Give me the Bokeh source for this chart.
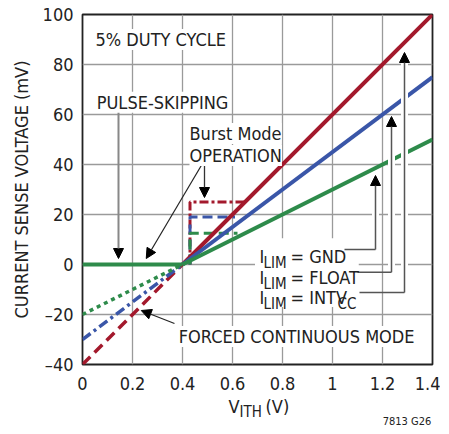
from bokeh.plotting import figure
from bokeh.layouts import column, row
from bokeh.models import (Range1d, FixedTicker, CustomJSTickFormatter, Label,
                          Arrow, NormalHead, Spacer)
from bokeh.core.properties import value
from bokeh.embed import file_html
from bokeh.resources import INLINE

# ---------------- data ----------------
vith_fc = [0.0, 0.4]          # forced continuous mode (extrapolated below 0.4 V)
fc_gnd = [-20, 0]
fc_float = [-30, 0]
fc_intv = [-40, 0]

vith_run = [0.4, 1.4]
run_gnd = [0, 50]
run_float = [0, 75]
run_intv = [0, 100]

vith_skip = [0.0, 0.4]        # pulse-skipping
skip_v = [0, 0]

burst_x_intv = [0.43, 0.43, 0.65]
burst_y_intv = [0, 25, 25]
burst_x_float = [0.43, 0.43, 0.61]
burst_y_float = [0, 19, 19]
burst_x_gnd = [0.43, 0.43, 0.62]
burst_y_gnd = [0, 12.5, 12.5]

x_ticks = [0, 0.2, 0.4, 0.6, 0.8, 1.0, 1.2, 1.4]
y_ticks = [-40, -20, 0, 20, 40, 60, 80, 100]

RED = "#A3192C"
BLUE = "#3A56A8"
GREEN = "#2E8B4B"
FONT = "Liberation Sans Narrow, DejaVu Sans Condensed, Roboto"
TXT = "#222222"

xr = Range1d(0, 1.4)
p = figure(frame_width=350, frame_height=350, output_backend="svg",
           toolbar_location=None, x_range=xr, y_range=Range1d(-40, 100),
           min_border_left=68, min_border_right=8, min_border_top=14, min_border_bottom=30)
p.background_fill_color = "white"
p.border_fill_color = "white"
p.outline_line_color = "#222222"
p.outline_line_width = 1.8

for ax in (p.xaxis[0], p.yaxis[0]):
    ax.axis_line_color = None
    ax.major_tick_in = 0
    ax.major_tick_out = 0
    ax.minor_tick_line_color = None
    ax.major_label_text_font = FONT
    ax.major_label_text_font_size = "18px"
    ax.major_label_text_color = TXT

p.xaxis.ticker = FixedTicker(ticks=x_ticks)
p.yaxis.ticker = FixedTicker(ticks=y_ticks)
p.xaxis.formatter = CustomJSTickFormatter(code="return (Math.round(tick*10)/10).toString();")
p.yaxis.formatter = CustomJSTickFormatter(code="return tick < 0 ? '\u2013' + Math.abs(tick) : '' + tick;")
p.xaxis.major_label_standoff = 12
p.yaxis.major_label_standoff = 9

p.yaxis.axis_label = "CURRENT SENSE VOLTAGE (mV)"
p.yaxis.axis_label_text_font = FONT
p.yaxis.axis_label_text_font_size = "18px"
p.yaxis.axis_label_text_font_style = "normal"
p.yaxis.axis_label_text_color = TXT
p.yaxis.axis_label_standoff = 8

p.grid.grid_line_color = "#9a9a9a"
p.grid.grid_line_width = 1.3
p.xgrid.ticker = FixedTicker(ticks=x_ticks)
p.ygrid.ticker = FixedTicker(ticks=y_ticks)

# white box behind I_LIM labels
p.quad(left=[0.69], right=[1.105], bottom=[-17], top=[10.5], fill_color="white", line_color=None)

# forced continuous extrapolations
p.line(vith_fc, fc_intv, line_color=RED, line_width=3.5, line_dash="11 6")
p.line(vith_fc, fc_float, line_color=BLUE, line_width=3.5, line_dash="10 4 3 4")
p.line(vith_fc, fc_gnd, line_color=GREEN, line_width=3.5, line_dash="4 4")

# burst mode levels
p.line(burst_x_intv, burst_y_intv, line_color=RED, line_width=3, line_dash="9 3 3 3")
p.line(burst_x_float, burst_y_float, line_color=BLUE, line_width=3, line_dash="10 5")
p.line(burst_x_gnd, burst_y_gnd, line_color=GREEN, line_width=3, line_dash="10 5")

# main curves
p.line(vith_run, run_intv, line_color=RED, line_width=4)
p.line(vith_run, run_float, line_color=BLUE, line_width=4)
p.line(vith_run, run_gnd, line_color=GREEN, line_width=4)
p.line(vith_skip, skip_v, line_color=GREEN, line_width=4)

# white halos for I_LIM leader shafts, then leaders
shafts = [(1.172, 6.0, 35.6, 1.048), (1.236, -3.1, 59.2, 1.10), (1.288, -11.2, 84.8, 1.108)]
for sx, sy0, sy1, hx in shafts:
    p.segment(x0=[sx], y0=[sy0], x1=[sx], y1=[sy1 - 2], line_color="white", line_width=7)
for sx, sy0, sy1, hx in shafts:
    p.segment(x0=[hx], y0=[sy0], x1=[sx], y1=[sy0], line_color="#555555", line_width=1.5)
    p.add_layout(Arrow(end=NormalHead(size=10, fill_color="black", line_color="black"),
                       x_start=sx, y_start=sy0, x_end=sx, y_end=sy1,
                       line_color="#555555", line_width=1.5))

# other arrows
p.add_layout(Arrow(end=NormalHead(size=10, fill_color="black", line_color="black"),
                   x_start=0.144, y_start=63, x_end=0.144, y_end=2.4,
                   line_color="#888888", line_width=2))
p.add_layout(Arrow(end=NormalHead(size=10, fill_color="black", line_color="black"),
                   x_start=0.488, y_start=40.4, x_end=0.488, y_end=26.8,
                   line_color="#333333", line_width=1.3))
p.add_layout(Arrow(end=NormalHead(size=10, fill_color="black", line_color="black"),
                   x_start=0.48, y_start=40.4, x_end=0.255, y_end=2.4,
                   line_color="#222222", line_width=1.2))
p.add_layout(Arrow(end=NormalHead(size=10, fill_color="black", line_color="black"),
                   x_start=0.368, y_start=-23.6, x_end=0.235, y_end=-18.4,
                   line_color="#222222", line_width=1.2))


def lab(x, y, text, size=18, align="left", bg=False):
    kw = {}
    if bg:
        kw = dict(background_fill_color="white", background_fill_alpha=1.0)
    p.add_layout(Label(x=x, y=y, text=text, text_font=FONT, text_font_size=f"{size}px",
                       text_align=align, text_baseline="alphabetic",
                       text_color=TXT, **kw))


lab(0.052, 90, "5% DUTY CYCLE", bg=True)
lab(0.057, 64.9, "PULSE-SKIPPING", bg=True)
lab(0.428, 52.4, "Burst Mode", bg=True)
lab(0.428, 43.6, "OPERATION", bg=True)
lab(0.385, -28.8, "FORCED CONTINUOUS MODE", bg=True)

# I_LIM labels
for yb, rest in [(3.2, "= GND"), (-5.2, "= FLOAT"), (-13.2, "= INTV")]:
    lab(0.708, yb, "I")
    lab(0.724, yb - 2.4, "LIM", size=15)
    lab(0.832, yb, rest)
lab(1.02, -15.6, "CC", size=15)

# ---- strip below the plot for the x-axis title and figure code ----
p2 = figure(frame_width=350, frame_height=31, output_backend="svg", toolbar_location=None,
            x_range=xr, y_range=Range1d(0, 31),
            x_axis_location=None, y_axis_location=None,
            min_border_left=68, min_border_right=8, min_border_top=0, min_border_bottom=0)
p2.outline_line_color = None
p2.grid.visible = False
p2.background_fill_color = "white"
p2.border_fill_color = "white"

F2 = value(FONT)
p2.text(x=[0.584], y=[19], text=["V"], text_font=F2,
        text_font_size="18px", text_color=TXT, text_baseline="alphabetic")
p2.text(x=[0.628], y=[14], text=["ITH"], text_font=F2,
        text_font_size="15px", text_color=TXT, text_baseline="alphabetic")
p2.text(x=[0.732], y=[19], text=["(V)"], text_font=F2,
        text_font_size="18px", text_color=TXT, text_baseline="alphabetic")
p2.text(x=[1.395], y=[4], text=["7813 G26"], text_font=F2,
        text_font_size="11px", text_color=TXT, text_baseline="alphabetic", text_align="right")

layout = row(Spacer(width=7), column(p, p2, spacing=0), spacing=0)
open("out.html", "w").write(file_html(layout, INLINE))
